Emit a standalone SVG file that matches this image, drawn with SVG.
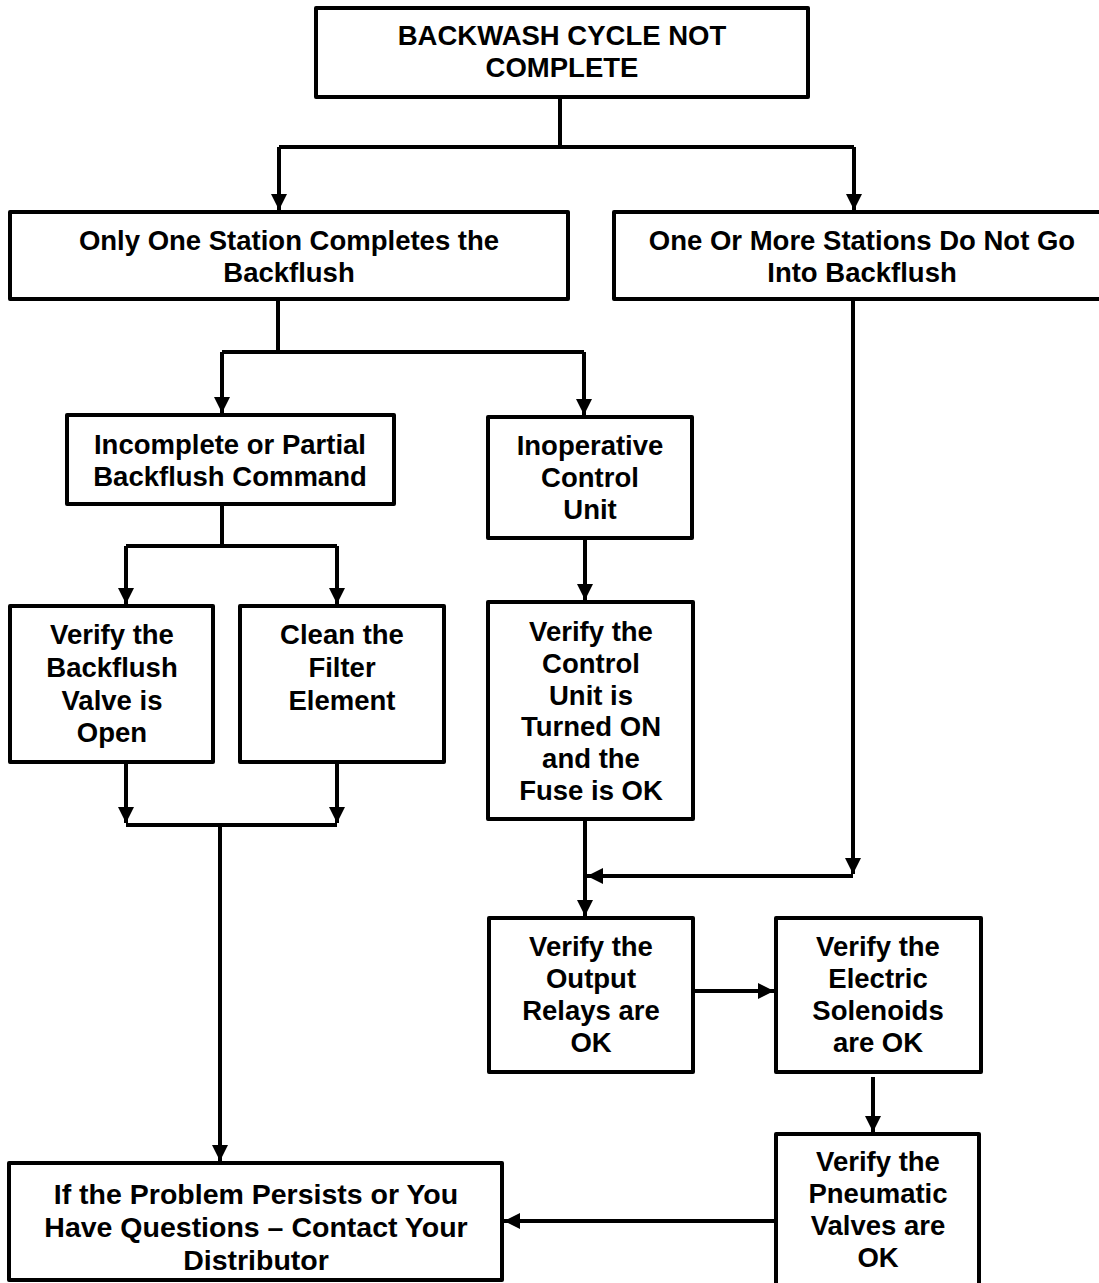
<svg xmlns="http://www.w3.org/2000/svg" width="1099" height="1283" viewBox="0 0 1099 1283">
<style>
.box{fill:#fff;stroke:#000;stroke-width:4;stroke-linejoin:round}
.t{font-family:"Liberation Sans",Arial,sans-serif;font-weight:bold;font-size:27.5px;fill:#000;text-anchor:middle}
.big{font-size:28.5px}
.c{fill:none;stroke:#000;stroke-width:4}
.a{fill:none;stroke:#000;stroke-width:4;marker-end:url(#ah)}
</style>
<defs>
<marker id="ah" viewBox="0 0 14 14" refX="14" refY="7" markerWidth="16" markerHeight="16" markerUnits="userSpaceOnUse" orient="auto">
<path d="M0,0 L14,7 L0,14 z" fill="#000"/>
</marker>
</defs>
<rect width="1099" height="1283" fill="#fff"/>
<g id="connectors">
<path class="c" d="M560,97 V147"/>
<path class="c" d="M279,147 H854"/>
<path class="a" d="M279,147 V210"/>
<path class="a" d="M854,147 V210"/>
<path class="c" d="M278,299 V352"/>
<path class="c" d="M222,352 H584"/>
<path class="a" d="M222,352 V413"/>
<path class="a" d="M584,352 V415"/>
<path class="c" d="M222,504 V546"/>
<path class="c" d="M126,546 H337"/>
<path class="a" d="M126,546 V604"/>
<path class="a" d="M337,546 V604"/>
<path class="a" d="M585,538 V600"/>
<path class="a" d="M126,762 V823"/>
<path class="a" d="M337,762 V823"/>
<path class="c" d="M126,825 H337"/>
<path class="a" d="M220,825 V1161"/>
<path class="a" d="M585,819 V916"/>
<path class="a" d="M853,299 V874"/>
<path class="a" d="M853,876 H587"/>
<path class="a" d="M693,991 H774"/>
<path class="a" d="M873,1077 V1132"/>
<path class="a" d="M776,1221 H504"/>
</g>
<g id="n1"><rect class="box" x="316" y="8" width="492" height="89"/>
<text class="t" x="562" y="45">BACKWASH CYCLE NOT</text><text class="t" x="562" y="77">COMPLETE</text></g>
<g id="n2"><rect class="box" x="10" y="212" width="558" height="87"/>
<text class="t" x="289" y="250">Only One Station Completes the</text><text class="t" x="289" y="282">Backflush</text></g>
<g id="n3"><rect class="box" x="614" y="212" width="500" height="87"/>
<text class="t" x="862" y="250">One Or More Stations Do Not Go</text><text class="t" x="862" y="282">Into Backflush</text></g>
<g id="n4"><rect class="box" x="67" y="415" width="327" height="89"/>
<text class="t" x="230" y="454">Incomplete or Partial</text><text class="t" x="230" y="486">Backflush Command</text></g>
<g id="n5"><rect class="box" x="488" y="417" width="204" height="121"/>
<text class="t" x="590" y="455">Inoperative</text><text class="t" x="590" y="487">Control</text><text class="t" x="590" y="519">Unit</text></g>
<g id="n6"><rect class="box" x="10" y="606" width="203" height="156"/>
<text class="t" x="112" y="644">Verify the</text><text class="t" x="112" y="677">Backflush</text><text class="t" x="112" y="710">Valve is</text><text class="t" x="112" y="742">Open</text></g>
<g id="n7"><rect class="box" x="240" y="606" width="204" height="156"/>
<text class="t" x="342" y="644">Clean the</text><text class="t" x="342" y="677">Filter</text><text class="t" x="342" y="710">Element</text></g>
<g id="n8"><rect class="box" x="488" y="602" width="205" height="217"/>
<text class="t" x="591" y="641">Verify the</text><text class="t" x="591" y="673">Control</text><text class="t" x="591" y="705">Unit is</text><text class="t" x="591" y="736">Turned ON</text><text class="t" x="591" y="768">and the</text><text class="t" x="591" y="800">Fuse is OK</text></g>
<g id="n9"><rect class="box" x="489" y="918" width="204" height="154"/>
<text class="t" x="591" y="956">Verify the</text><text class="t" x="591" y="988">Output</text><text class="t" x="591" y="1020">Relays are</text><text class="t" x="591" y="1052">OK</text></g>
<g id="n10"><rect class="box" x="776" y="918" width="205" height="154"/>
<text class="t" x="878" y="956">Verify the</text><text class="t" x="878" y="988">Electric</text><text class="t" x="878" y="1020">Solenoids</text><text class="t" x="878" y="1052">are OK</text></g>
<g id="n11"><rect class="box" x="776" y="1134" width="203" height="160"/>
<text class="t" x="878" y="1171">Verify the</text><text class="t" x="878" y="1203">Pneumatic</text><text class="t" x="878" y="1235">Valves are</text><text class="t" x="878" y="1267">OK</text></g>
<g id="n12"><rect class="box" x="9" y="1163" width="493" height="117"/>
<text class="t big" x="256" y="1204">If the Problem Persists or You</text><text class="t big" x="256" y="1237">Have Questions – Contact Your</text><text class="t big" x="256" y="1270">Distributor</text></g>
</svg>
